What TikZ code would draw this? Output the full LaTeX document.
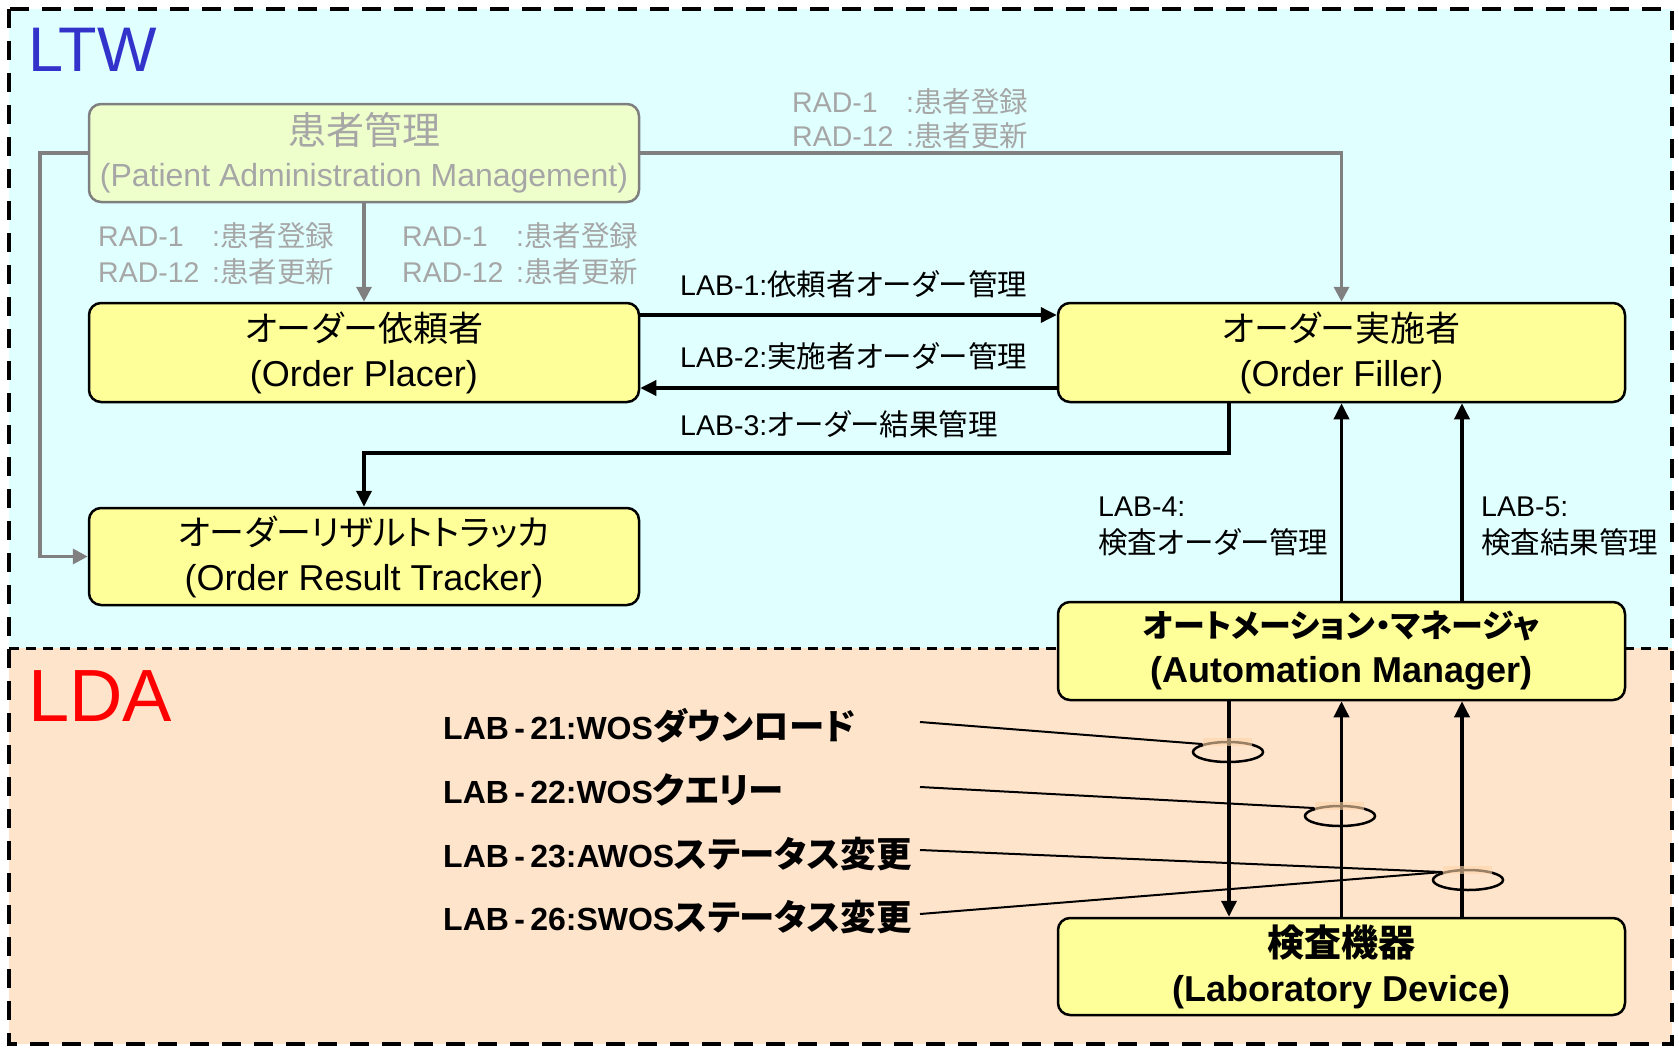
\documentclass[tikz,border=0pt]{standalone}
\usepackage{fontspec}
\setmainfont{Liberation Sans}
\newfontfamily\jp{Noto Sans CJK JP}[RawFeature=+palt]
\usetikzlibrary{arrows.meta,calc,shapes.geometric}
\definecolor{ltwbg}{HTML}{E0FFFF}
\definecolor{ldabg}{HTML}{FFE4CC}
\definecolor{boxfill}{HTML}{FFFF99}
\definecolor{pamfill}{HTML}{EEFFCC}
\definecolor{graytxt}{HTML}{A6A6A6}
\definecolor{grayline}{HTML}{808080}
\definecolor{ltwblue}{HTML}{3333CC}
\definecolor{patchc}{HTML}{FFD4A8}
\newcommand{\fsz}[2]{\fontsize{#1}{#2}\selectfont}
\begin{document}
\begin{tikzpicture}[x=1pt,y=-1pt,
  box/.style={draw=black, line width=2.5pt, rounded corners=12pt, fill=boxfill,
    minimum width=567pt, align=center, inner sep=0pt, font=\fsz{36}{45}},
  pambox/.style={draw=grayline, line width=2.5pt, rounded corners=12pt, fill=pamfill,
    minimum width=550pt, minimum height=98pt, align=center, inner sep=0pt,
    text=graytxt, font=\fsz{32}{42}},
  lbl/.style={anchor=base west, inner sep=0pt, font=\fsz{28.5}{30}},
  glbl/.style={lbl, text=graytxt},
  blbl/.style={anchor=base west, inner sep=0pt, font=\fsz{32}{34}\bfseries},
  barr/.style={draw=black, line width=3.5pt, -{Triangle[length=16pt,width=15pt]}},
  garr/.style={draw=grayline, line width=3.5pt, -{Triangle[length=15pt,width=15pt]}},
  ell/.style={ellipse, draw=black, line width=2.5pt, minimum width=70pt, minimum height=20pt, inner sep=0pt},
  thin/.style={draw=black, line width=2pt}
]
\useasboundingbox (0,0) rectangle (1679,1049);
% backgrounds
\fill[ltwbg] (9,9) rectangle (1672,648);
\fill[ldabg] (9,648) rectangle (1672,1044);
\draw[line width=3pt, dash pattern=on 10pt off 7pt] (9,648) -- (1672,648);
\draw[line width=4.5pt, dash pattern=on 19pt off 13pt] (9,9) rectangle (1672,1044);

% area titles
\node[anchor=base west, inner sep=0pt, text=ltwblue, font=\fsz{63}{65}] (ltw) at (28,72) {LTW};
\node[anchor=base west, inner sep=0pt, text=red, font=\fsz{74}{76}] (lda) at (28,721) {LDA};

% boxes
\node[pambox] (pam) at (364,153) {{\jp\fsz{38}{42}患者管理}\\(Patient Administration Management)};
\node[box, minimum width=550pt, minimum height=99pt] (op) at (364,352.5) {{\jp\fsz{35}{42}オーダー依頼者}\\(Order Placer)};
\node[box, minimum height=99pt] (of) at (1341.5,352.5) {{\jp\fsz{35}{42}オーダー実施者}\\(Order Filler)};
\node[box, minimum width=550pt, minimum height=97pt] (ort) at (364,556.5) {{\jp\fsz{35}{42}オーダーリザルトトラッカ}\\(Order Result Tracker)};
\node[box, minimum height=98pt, font=\fsz{36}{45}\bfseries] (am) at (1341.5,651) {{\jp\bfseries\fsz{32}{42}オートメーション・マネージャ}\\(Automation Manager)};
\node[box, minimum height=97pt, font=\fsz{36}{45}\bfseries] (ld) at (1341.5,966.5) {{\jp\bfseries\fsz{37}{42}検査機器}\\(Laboratory Device)};

% helper coordinates
\coordinate (xa) at (1229,0);
\coordinate (xc) at (1462,0);
\coordinate (l3) at (1229,453);

% gray connectors
\draw[garr] (pam.south) -- (op.north);
\draw[garr] (pam.east) -| (of.north);
\draw[garr] (pam.west) -- ++(-48,0) |- (ort.west);

% black connectors
\draw[barr] ([yshift=37.5pt]op.east) -- ([yshift=37.5pt]of.west);
\draw[barr] ([yshift=-35.5pt]of.west) -- ([yshift=-35.5pt]op.east);
\draw[barr] (xa |- of.south) -- (l3) -| (ort.north);
\draw[barr] (am.north) -- (of.south);
\draw[barr] (xc |- am.north) -- (xc |- of.south);
\draw[barr] (xa |- am.south) -- (xa |- ld.north);
\draw[barr] (ld.north) -- (am.south);
\draw[barr] (xc |- ld.north) -- (xc |- am.south);

% gray labels
\node[glbl] (r0a) at (792,112) {\makebox[114pt][l]{RAD-1}:{\jp 患者登録}};
\node[glbl] (r0b) at (792,146) {\makebox[114pt][l]{RAD-12}:{\jp 患者更新}};
\node[glbl] (r1a) at (98,246) {\makebox[114pt][l]{RAD-1}:{\jp 患者登録}};
\node[glbl] (r1b) at (98,282) {\makebox[114pt][l]{RAD-12}:{\jp 患者更新}};
\node[glbl] (r2a) at (402,246) {\makebox[114pt][l]{RAD-1}:{\jp 患者登録}};
\node[glbl] (r2b) at (402,282) {\makebox[114pt][l]{RAD-12}:{\jp 患者更新}};

% black labels
\node[lbl] (t1) at (680,295) {LAB-1:{\jp\fsz{29.5}{30}依頼者オーダー管理}};
\node[lbl] (t2) at (680,367) {LAB-2:{\jp\fsz{29.5}{30}実施者オーダー管理}};
\node[lbl] (t3) at (680,435) {LAB-3:{\jp\fsz{29.5}{30}オーダー結果管理}};
\node[lbl] (t4a) at (1098,516) {LAB-4:};
\node[lbl] (t4b) at (1098,553) {\jp\fsz{29.5}{30}検査オーダー管理};
\node[lbl] (t5a) at (1481,516) {LAB-5:};
\node[lbl] (t5b) at (1481,553) {\jp\fsz{29.5}{30}検査結果管理};

% LDA transaction labels
\node[blbl] (b21) at (443,739) {LAB\,-\,21:WOS{\jp\bfseries\fsz{35.5}{36}ダウンロード}};
\node[blbl] (b22) at (443,803) {LAB\,-\,22:WOS{\jp\bfseries\fsz{35.5}{36}クエリー}};
\node[blbl] (b23) at (443,867) {LAB\,-\,23:AWOS{\jp\bfseries\fsz{35.5}{36}ステータス変更}};
\node[blbl] (b26) at (443,930) {LAB\,-\,26:SWOS{\jp\bfseries\fsz{35.5}{36}ステータス変更}};

% ellipses
\node[ell] (e1) at (1228,752) {};
\node[ell] (e2) at (1340,816) {};
\node[ell] (e3) at (1468,880) {};
\coordinate (s1) at (920,722);
\coordinate (s2) at (920,787);
\coordinate (s3) at (920,850);
\coordinate (s4) at (920,914);
\draw[thin] (s1) -- (e1.north west);
\draw[thin] (s2) -- (e2.north west);
\draw[thin] (s3) -- (e3.north west);
\draw[thin] (s4) -- (e3.north west);
\foreach \e in {e1,e2,e3}{
  \fill[patchc, opacity=0.6] ([shift={(-25,-14)}]\e.center) rectangle ([shift={(24,-6)}]\e.center);
}
\end{tikzpicture}
\end{document}
